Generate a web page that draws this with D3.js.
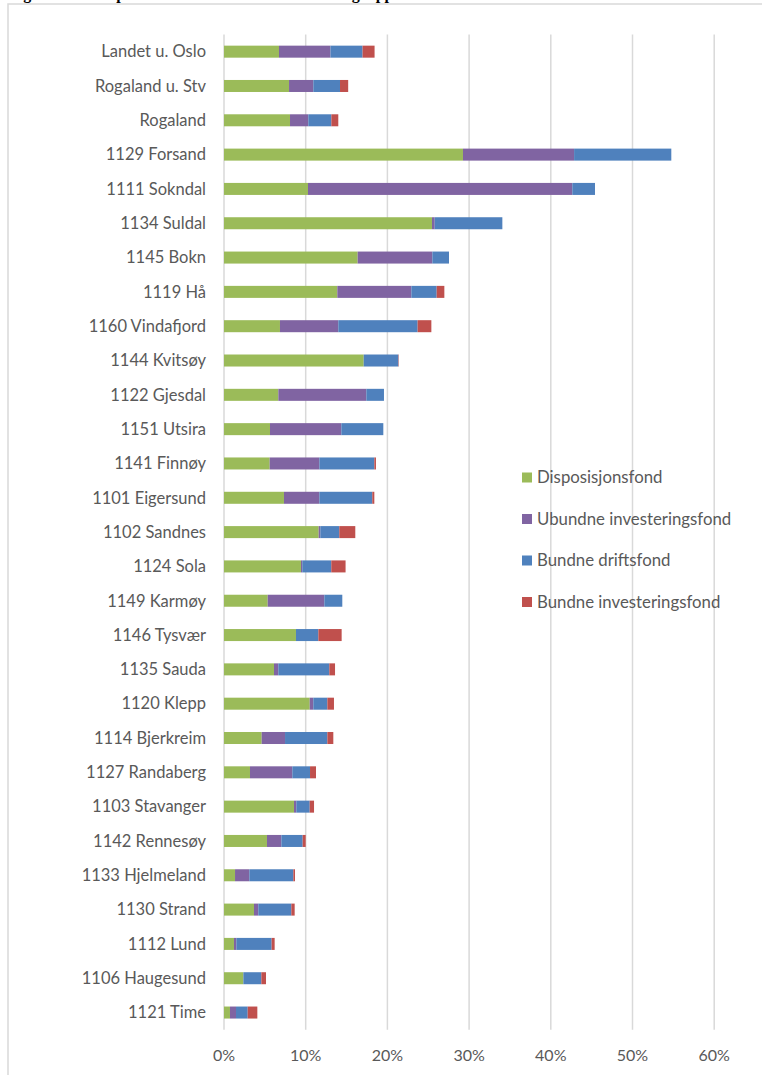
<!DOCTYPE html>
<html>
<head>
<meta charset="utf-8">
<script src="https://cdn.jsdelivr.net/npm/d3@7"></script>
<style>
  html, body { margin: 0; padding: 0; background: #fff; }
  svg { display: block; }
</style>
</head>
<body>
<svg id="chart" width="762" height="1075"></svg>
<script>
const categories = [
  "Landet u. Oslo", "Rogaland u. Stv", "Rogaland", "1129 Forsand", "1111 Sokndal",
  "1134 Suldal", "1145 Bokn", "1119 Hå", "1160 Vindafjord", "1144 Kvitsøy",
  "1122 Gjesdal", "1151 Utsira", "1141 Finnøy", "1101 Eigersund", "1102 Sandnes",
  "1124 Sola", "1149 Karmøy", "1146 Tysvær", "1135 Sauda", "1120 Klepp",
  "1114 Bjerkreim", "1127 Randaberg", "1103 Stavanger", "1142 Rennesøy", "1133 Hjelmeland",
  "1130 Strand", "1112 Lund", "1106 Haugesund", "1121 Time"
];
const seriesNames = ["Disposisjonsfond", "Ubundne investeringsfond", "Bundne driftsfond", "Bundne investeringsfond"];
const disposisjonsfond = [6.73, 7.96, 8.08, 29.25, 10.28, 25.46, 16.36, 13.87, 6.85, 17.10,
  6.65, 5.63, 5.59, 7.34, 11.59, 9.42, 5.35, 8.81, 6.12, 10.49,
  4.61, 3.18, 8.57, 5.26, 1.35, 3.67, 1.22, 2.37, 0.73];
const ubundneInvesteringsfond = [6.30, 2.97, 2.24, 13.60, 32.35, 0.33, 9.14, 9.06, 7.14, 0.00,
  10.77, 8.73, 6.08, 4.33, 0.20, 0.16, 6.93, 0.00, 0.53, 0.44,
  2.86, 5.18, 0.28, 1.76, 1.75, 0.53, 0.29, 0.00, 0.74];
const bundneDriftsfond = [3.93, 3.27, 2.82, 11.90, 2.78, 8.28, 2.04, 3.10, 9.71, 4.24,
  2.16, 5.14, 6.73, 6.48, 2.32, 3.55, 2.20, 2.74, 6.24, 1.72,
  5.18, 2.17, 1.64, 2.61, 5.39, 4.04, 4.32, 2.20, 1.43];
const bundneInvesteringsfond = [1.47, 1.00, 0.85, 0.00, 0.00, 0.00, 0.00, 0.94, 1.68, 0.05,
  0.00, 0.00, 0.20, 0.25, 1.96, 1.75, 0.00, 2.85, 0.70, 0.81,
  0.73, 0.73, 0.53, 0.37, 0.20, 0.41, 0.37, 0.57, 1.18];
const xTicks = [0, 10, 20, 30, 40, 50, 60];
const colors = ["#9BBB59", "#8064A2", "#4F81BD", "#C0504D"];
const titleText = "Figur 4: Fond i prosent av brutto driftsinntekter i gruppe 1";

const svg = d3.select("#chart");
const font = "Lato, 'Open Sans', sans-serif";
const textColor = "#595959";

// title, cut off at the very top as in the source image
svg.append("text").attr("x", 9).attr("y", -1.5)
  .attr("font-family", "'Liberation Serif', serif").attr("font-weight", "bold")
  .attr("font-size", 16).attr("fill", "#000").text(titleText);

// frame
svg.append("rect").attr("x", 8).attr("y", 4).attr("width", 800).attr("height", 1100)
  .attr("fill", "none").attr("stroke", "#d9d9d9").attr("stroke-width", 1.5);

const x = d3.scaleLinear().domain([0, 60]).range([224, 714.2]);
const y = d3.scaleBand().domain(categories).range([34.5, 1029.7]).paddingInner(0.65).paddingOuter(0.325);

// gridlines
svg.append("g").selectAll("line").data(xTicks).join("line")
  .attr("x1", d => x(d)).attr("x2", d => x(d))
  .attr("y1", 34.5).attr("y2", 1029.7)
  .attr("stroke", "#d9d9d9").attr("stroke-width", 1.5);

// stack
const table = categories.map((c, i) => ({
  cat: c,
  s0: disposisjonsfond[i], s1: ubundneInvesteringsfond[i],
  s2: bundneDriftsfond[i], s3: bundneInvesteringsfond[i]
}));
const stack = d3.stack().keys(["s0", "s1", "s2", "s3"])(table);

svg.append("g").selectAll("g").data(stack).join("g")
  .attr("fill", (d, i) => colors[i])
  .selectAll("rect").data(d => d).join("rect")
  .attr("x", d => x(d[0]))
  .attr("width", d => Math.max(0, x(d[1]) - x(d[0])))
  .attr("y", d => y(d.data.cat))
  .attr("height", y.bandwidth());

// category labels
svg.append("g").selectAll("text").data(categories).join("text")
  .attr("x", 206).attr("y", d => y(d) + y.bandwidth() / 2)
  .attr("dy", "0.35em").attr("text-anchor", "end")
  .attr("font-family", font).attr("font-size", 16.5).attr("fill", textColor)
  .text(d => d);

// x tick labels
svg.append("g").selectAll("text").data(xTicks).join("text")
  .attr("x", d => x(d)).attr("y", 1055).attr("dy", "0.35em")
  .attr("text-anchor", "middle")
  .attr("font-family", font).attr("font-size", 16).attr("fill", textColor)
  .text(d => d + "%");

// legend
const lg = svg.append("g").selectAll("g").data(seriesNames).join("g")
  .attr("transform", (d, i) => `translate(522, ${477.5 + i * 41.5})`);
lg.append("rect").attr("x", 0).attr("y", -5).attr("width", 10).attr("height", 10)
  .attr("fill", (d, i) => colors[i]);
lg.append("text").attr("x", 15).attr("y", 0).attr("dy", "0.35em")
  .attr("font-family", font).attr("font-size", 16.8).attr("fill", textColor)
  .text(d => d);
</script>
</body>
</html>
